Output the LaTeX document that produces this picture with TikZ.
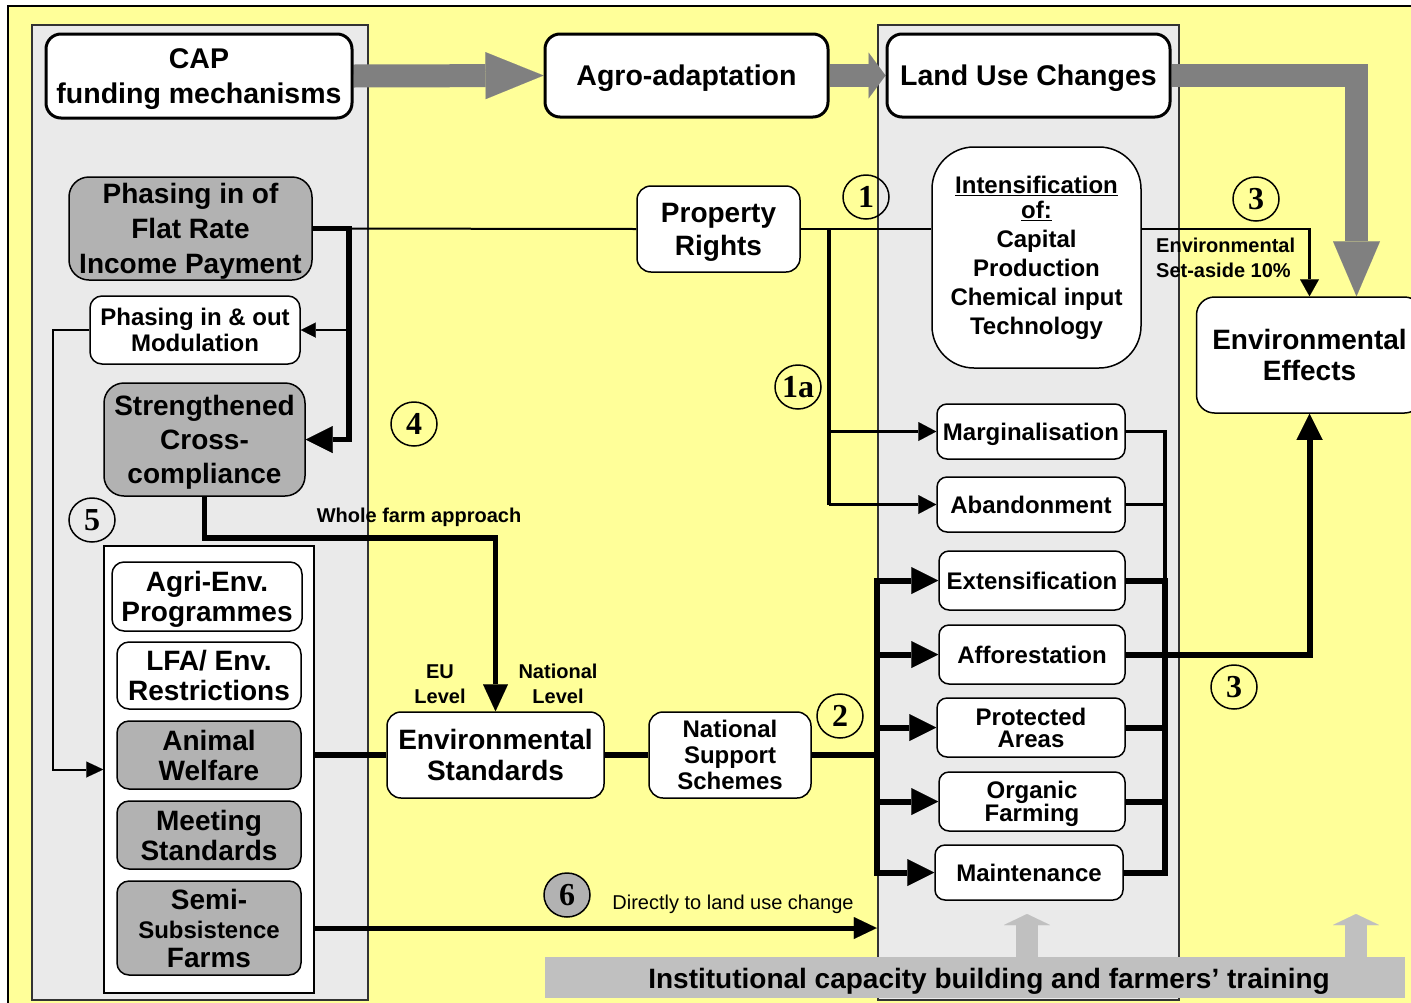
\documentclass[tikz,border=0pt]{standalone}
\usepackage{fontspec}
\setmainfont{Liberation Sans}
\newfontfamily\numfont{Liberation Serif}
\usetikzlibrary{arrows.meta,calc,shapes.geometric}
\definecolor{bgyellow}{HTML}{FFFF99}
\definecolor{panelgray}{HTML}{EAEAEA}
\definecolor{boxgray}{HTML}{B2B2B2}
\definecolor{arrowgray}{HTML}{808080}
\definecolor{bargray}{HTML}{C0C0C0}
\pgfdeclarelayer{back}
\pgfdeclarelayer{conn}
\pgfsetlayers{back,conn,main}
\tikzset{
  box/.style={draw, fill=white, line width=1.5pt, rounded corners=12pt, align=center, inner sep=0pt,
    text depth=0pt, font=\bfseries\fontsize{28}{30}\selectfont},
  topbox/.style={box, line width=3pt, rounded corners=15pt, font=\bfseries\fontsize{28.5}{35}\selectfont},
  gbox/.style={box, fill=boxgray},
  sbox/.style={box, minimum width=184pt, minimum height=68pt},
  rbox/.style={box, rounded corners=10pt, minimum width=188pt, minimum height=57pt,
    font=\bfseries\fontsize{24}{22}\selectfont},
  num/.style={ellipse, draw, line width=1.5pt, minimum width=46pt, minimum height=44pt, inner sep=0pt,
    font=\numfont\bfseries\fontsize{32}{32}\selectfont},
  lbl/.style={inner sep=0pt, align=center, font=\bfseries\fontsize{20}{25}\selectfont},
  fat/.style={draw=arrowgray, line width=23pt},
}
\begin{document}
\begin{tikzpicture}[x=1pt,y=-1pt]
\useasboundingbox (0,0) rectangle (1411,1002);
\begin{pgfonlayer}{back}
\draw[line width=1.5pt, fill=bgyellow] (8,6) rectangle (1440,1030);
\draw[line width=1.5pt, draw=black!80, fill=panelgray] (32,25) rectangle (368,1000);
\draw[line width=1.5pt, draw=black!80, fill=panelgray] (878,25) rectangle (1179,1000);
\end{pgfonlayer}

% bottom bar
\node[fill=bargray, minimum width=860pt, minimum height=41pt, inner sep=0pt] (bar) at (975,977.5) {};
\node[inner sep=0pt, font=\bfseries\fontsize{28}{33}\selectfont] (barlbl) at (989,981) {Institutional capacity building and farmers’ training};

% top row
\node[topbox, minimum width=306pt, minimum height=84pt] (cap) at (199,76) {CAP\\funding mechanisms};
\node[topbox, minimum width=283pt, minimum height=83pt] (agro) at (686.5,75.5) {Agro-adaptation};
\node[topbox, minimum width=283pt, minimum height=83pt] (land) at (1028.5,75.5) {Land Use Changes};

% left column
\node[gbox, rounded corners=20pt, minimum width=243pt, minimum height=103pt, font=\bfseries\fontsize{28}{35}\selectfont] (flat) at (190.5,228.5) {Phasing in of\\Flat Rate\\Income Payment};
\node[box, minimum width=210pt, minimum height=68pt, font=\bfseries\fontsize{24}{26}\selectfont] (mod) at (195,330) {Phasing in \& out\\Modulation};
\node[gbox, rounded corners=20pt, minimum width=201pt, minimum height=113pt, font=\bfseries\fontsize{28}{34}\selectfont] (strength) at (204.5,439.5) {Strengthened\\Cross-\\compliance};

\node[draw, fill=white, line width=1.5pt, minimum width=210pt, minimum height=447pt, inner sep=0pt] (inner) at (209,769.5) {};
\node[box, minimum width=190pt, minimum height=69pt] (agri) at (207,596.5) {Agri-Env.\\Programmes};
\node[sbox, minimum height=67pt] (lfa) at (209,675.5) {LFA/ Env.\\Restrictions};
\node[sbox, gbox] (animal) at (209,755) {Animal\\Welfare};
\node[sbox, gbox] (meeting) at (209,835) {Meeting\\Standards};
\node[sbox, gbox, minimum height=94pt, font=\bfseries\fontsize{28}{29}\selectfont] (semi) at (209,928) {Semi-\\{\fontsize{24}{29}\selectfont Subsistence}\\Farms};

% middle
\node[box, rounded corners=14pt, minimum width=163pt, minimum height=86pt, font=\bfseries\fontsize{28}{33}\selectfont] (prop) at (718.5,229) {Property\\Rights};
\node[box, rounded corners=14pt, minimum width=217pt, minimum height=86pt, font=\bfseries\fontsize{28}{31}\selectfont] (envstd) at (495.5,755) {Environmental\\Standards};
\node[box, rounded corners=14pt, minimum width=162pt, minimum height=86pt, font=\bfseries\fontsize{24}{26}\selectfont] (nss) at (730,755) {National\\Support\\Schemes};

% right column
\node[box, rounded corners=42pt, minimum width=209pt, minimum height=221pt, text depth=, font=\bfseries\fontsize{24}{29}\selectfont] (intens) at (1036.5,257.5) {\underline{Intensification}\\[-4pt]\underline{of:}\\Capital\\Production\\Chemical input\\Technology};
\node[rbox, minimum height=55pt] (marg) at (1031,431.5) {Marginalisation};
\node[rbox, minimum height=55pt] (aband) at (1031,504.5) {Abandonment};
\node[rbox, minimum width=186pt, minimum height=59pt] (extens) at (1032,580.5) {Extensification};
\node[rbox, minimum width=186pt, minimum height=59pt] (affor) at (1032,654.5) {Afforestation};
\node[rbox, minimum height=59pt] (prot) at (1031,727.5) {Protected\\Areas};
\node[rbox, minimum width=186pt, minimum height=59pt] (organic) at (1032,801.5) {Organic\\Farming};
\node[rbox, minimum height=55pt] (maint) at (1029,872.5) {Maintenance};

\node[box, rounded corners=18pt, minimum width=226pt, minimum height=116pt, font=\bfseries\fontsize{28}{31}\selectfont] (envfx) at (1309.5,355) {Environmental\\Effects};

% labels
\node[lbl] (wfa) at (419,517) {Whole farm approach};
\node[lbl] (eu) at (440,684) {EU\\Level};
\node[lbl] (nat) at (558,684) {National\\Level};
\node[lbl, align=left, anchor=west] (setaside) at (1156,258) {Environmental\\Set-aside 10\%};
\node[inner sep=0pt, font=\fontsize{20}{24}\selectfont] (direct) at (733,904) {Directly to land use change};

% numbers
\node[num] (n1) at (866,197) {1};
\node[num] (n1a) at (798,387) {1a};
\node[num] (n3a) at (1256,199) {3};
\node[num] (n3b) at (1234,687) {3};
\node[num] (n4) at (414,424) {4};
\node[num] (n5) at (92,520) {5};
\node[num] (n2) at (840,716) {2};
\node[num, fill=boxgray] (n6) at (567,895) {6};

\coordinate (fx) at ($(flat.east)+(36,0)$);
\coordinate (px) at ($(prop.east)+(28,0)$);
\coordinate (bus) at ($(nss.east)+(65,0)$);
\coordinate (rb) at ($(marg.east)+(39,0)$);
\coordinate (ua1) at (1027,914);
\coordinate (ua2) at (1356,914);

\begin{pgfonlayer}{conn}
% fat grey arrows
\draw[fat, -{Triangle[length=58pt,width=47pt,line width=0.01pt]}] (cap.east) -- (agro.west);
\draw[fat, -{Triangle[length=17pt,width=46pt,line width=0.01pt]}] (agro.east) -- (land.west);
\draw[fat, line join=miter, -{Triangle[length=55pt,width=47pt,line width=0.01pt]}] (land.east) -| ($(envfx.north)+(47,0)$);
% up arrows
\draw[draw=bargray, line width=22pt, -{Triangle[length=11pt,width=46pt,line width=0.01pt]}] (bar.north -| ua1) -- (ua1);
\draw[draw=bargray, line width=22pt, -{Triangle[length=11pt,width=46pt,line width=0.01pt]}] (bar.north -| ua2) -- (ua2);

% left connectors
\draw[line width=2pt] (flat.east) -- (prop.west);
\draw[line width=5.5pt, -{Triangle[length=27pt,width=27pt,line width=0.01pt]}] (flat.east) -- (fx) |- (strength.east);
\draw[line width=2pt, -{Triangle[length=15pt,width=15pt,line width=0.01pt]}] (fx |- mod.east) -- (mod.east);
\draw[line width=2pt, -{Triangle[length=17pt,width=16pt,line width=0.01pt]}] (mod.west) -- ++(-36,0) |- (inner.west);
\draw[line width=5.5pt, -{Triangle[length=27pt,width=25pt,line width=0.01pt]}] (strength.south) -- ++(0,41) -| (envstd.north);
\draw[line width=6pt] (inner.east |- animal.east) -- (envstd.west);
\draw[line width=6pt] (envstd.east) -- (nss.west);
\draw[line width=6pt] (nss.east) -- (bus);
\draw[line width=5pt, -{Triangle[length=23pt,width=22pt,line width=0.01pt]}] (inner.east |- semi.east) -- (bus |- semi.east);

% property rights branches
\draw[line width=2pt] (prop.east) -- (intens.west |- prop.east);
\draw[line width=4pt] (px) -- (px |- aband.west);
\draw[line width=3.5pt, -{Triangle[length=18pt,width=19pt,line width=0.01pt]}] (px |- marg.west) -- (marg.west);
\draw[line width=3.5pt, -{Triangle[length=18pt,width=19pt,line width=0.01pt]}] (px |- aband.west) -- (aband.west);
\draw[line width=2.5pt, -{Triangle[length=17pt,width=19pt,line width=0.01pt]}] (intens.east |- prop.east) -| (envfx.north);

% national support bus
\draw[line width=6pt, line cap=rect] (bus |- extens.west) -- (bus |- maint.west);
\foreach \b in {extens,affor,prot,organic,maint}
  \draw[line width=6pt, -{Triangle[length=27pt,width=27pt,line width=0.01pt]}] (bus |- \b.west) -- (\b.west);

% right bus
\draw[line width=3.5pt] (marg.east) -| (rb |- extens.east);
\draw[line width=3.5pt] (aband.east) -- (rb |- aband.east);
\draw[line width=6pt, line cap=rect] (rb |- extens.east) -- (rb |- maint.east);
\foreach \b in {extens,prot,organic,maint}
  \draw[line width=6pt] (\b.east) -- (rb |- \b.east);
\draw[line width=6pt, -{Triangle[length=26pt,width=26pt,line width=0.01pt]}] (affor.east) -| (envfx.south);
\end{pgfonlayer}
\end{tikzpicture}
\end{document}
